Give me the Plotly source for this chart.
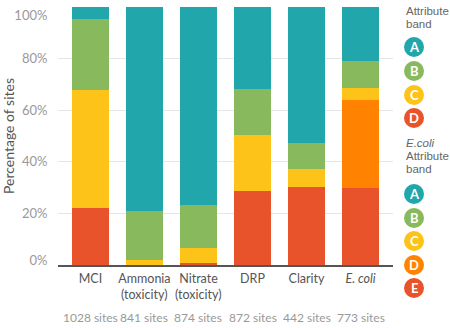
import plotly.graph_objects as go

# Share of monitoring sites in each attribute band, per attribute
categories = ["MCI", "Ammonia (toxicity)", "Nitrate (toxicity)", "DRP", "Clarity", "E. coli"]
tick_text = ["MCI", "Ammonia", "Nitrate", "DRP", "Clarity", "<i>E. coli</i>"]
tick_sub = ["", "(toxicity)", "(toxicity)", "", "", ""]
site_counts = ["1028 sites", "841 sites", "874 sites", "872 sites", "442 sites", "773 sites"]

band_a = [4.7, 79.2, 76.7, 31.9, 52.6, 20.9]
band_b = [27.5, 18.8, 16.8, 17.7, 10.1, 10.5]
band_c = [45.6, 2.0, 5.7, 21.8, 7.1, 4.6]
band_d = [22.2, 0.0, 0.8, 28.6, 30.2, 34.2]
band_e = [0.0, 0.0, 0.0, 0.0, 0.0, 29.8]

TEAL = "#21A6AC"
GREEN = "#88BA5D"
YELLOW = "#FEC318"
ORANGE = "#FF8300"
RED = "#E8532B"

# Band D is red for most attributes, but E. coli has five bands (D orange, E red)
d_colors = [RED, RED, RED, RED, RED, ORANGE]

W, H = 450, 328
ML, MR, MT, MB = 58, 57, 7, 63
PW, PH = W - ML - MR, H - MT - MB


def px_x(px):
    return (px - ML) / PW


def px_y(py):
    return (H - MB - py) / PH


x = list(range(len(categories)))
bar_w = 0.69

fig = go.Figure()
for name, vals, color in [
    ("E", band_e, RED),
    ("D", band_d, d_colors),
    ("C", band_c, YELLOW),
    ("B", band_b, GREEN),
    ("A", band_a, TEAL),
]:
    fig.add_trace(go.Bar(
        x=x, y=vals, name=name, width=bar_w,
        marker=dict(color=color, line=dict(width=0)),
        hovertemplate="%{y:.1f}%<extra>" + name + "</extra>",
    ))

AXIS_FONT = "Lato, 'Source Sans Pro', 'Open Sans', sans-serif"
LEG_FONT = "'Liberation Sans', Arial, sans-serif"

y_tick_style = dict(
    ticks="outside", ticklen=7, tickcolor="rgba(0,0,0,0)",
    tickfont=dict(family=AXIS_FONT, size=13, color="#999999"),
    automargin=False, fixedrange=True, range=[0, 100],
)

fig.update_layout(
    width=W, height=H,
    margin=dict(l=ML, r=MR, t=MT, b=MB, pad=0, autoexpand=False),
    barmode="stack",
    bargap=0,
    plot_bgcolor="white",
    paper_bgcolor="white",
    showlegend=False,
    font=dict(family=AXIS_FONT, size=13, color="#555555"),
    xaxis=dict(
        range=[-0.6, len(categories) - 0.4],
        tickvals=x, ticktext=tick_text, tickangle=0,
        ticks="outside", ticklen=1, tickcolor="rgba(0,0,0,0)",
        tickfont=dict(family=AXIS_FONT, size=12.5, color="#555555"),
        showgrid=False, zeroline=False,
        showline=True, linecolor="#555555", linewidth=1.5,
        automargin=False, fixedrange=True,
    ),
    yaxis=dict(
        tickvals=[20, 40, 60, 80], ticktext=["20%", "40%", "60%", "80%"],
        showgrid=True, gridcolor="#E6E6E6", gridwidth=1,
        zeroline=False, showline=False,
        title=dict(text="Percentage of sites", standoff=12,
                   font=dict(family=AXIS_FONT, size=14, color="#555555")),
        **y_tick_style,
    ),
    # extra overlaid axes keep the end labels tucked inside the plot height
    yaxis2=dict(
        overlaying="y", side="left",
        tickvals=[0], ticktext=["0%"], ticklabelshift=-5,
        showgrid=False, zeroline=False, showline=False,
        **y_tick_style,
    ),
    yaxis3=dict(
        overlaying="y", side="left",
        tickvals=[100], ticktext=["100%"], ticklabelshift=8,
        showgrid=True, gridcolor="#E6E6E6", zeroline=False, showline=False,
        **y_tick_style,
    ),
)

# invisible traces so the overlaid axes are drawn
for ax in ["y2", "y3"]:
    fig.add_trace(go.Scatter(x=[0], y=[50], yaxis=ax, mode="markers",
                             marker=dict(opacity=0), hoverinfo="skip",
                             showlegend=False))

# second line of the category labels, set tight under the first
for xi, sub in zip(x, tick_sub):
    if sub:
        fig.add_annotation(
            x=xi, y=0, xref="x", yref="paper", yshift=-29,
            text=sub, showarrow=False, yanchor="middle", xanchor="center",
            borderpad=0,
            font=dict(family=AXIS_FONT, size=12.5, color="#555555"),
        )

# site counts under each category
for xi, label in zip(x, site_counts):
    fig.add_annotation(
        x=xi, y=0, xref="x", yref="paper", yshift=-52,
        text=label, showarrow=False, yanchor="middle", xanchor="center",
        font=dict(family=AXIS_FONT, size=12, color="#999999"),
    )

# band legends drawn at the right
LEG_X_TEXT = 404
LEG_X_DOT = 414


def legend_text(py, text):
    fig.add_annotation(
        x=px_x(LEG_X_TEXT), y=px_y(py), xref="paper", yref="paper",
        text=text, showarrow=False, xanchor="left", yanchor="middle",
        font=dict(family=LEG_FONT, size=11.5, color="#666666"),
    )


def legend_dot(py, letter, color):
    fig.add_shape(
        type="circle", xref="paper", yref="paper",
        xsizemode="pixel", ysizemode="pixel",
        xanchor=px_x(LEG_X_DOT), yanchor=px_y(py),
        x0=-10, x1=10, y0=-10, y1=10,
        fillcolor=color, line=dict(width=0), layer="above",
    )
    fig.add_annotation(
        x=px_x(LEG_X_DOT), y=px_y(py), xref="paper", yref="paper",
        text="<b>" + letter + "</b>", showarrow=False,
        xanchor="center", yanchor="middle",
        font=dict(family=AXIS_FONT, size=13, color="white"),
    )


legend_text(11, "Attribute")
legend_text(24, "band")
for py, letter, color in [(47, "A", TEAL), (71, "B", GREEN), (95, "C", YELLOW), (118, "D", RED)]:
    legend_dot(py, letter, color)

legend_text(143, "<i>E.coli</i>")
legend_text(156, "Attribute")
legend_text(169, "band")
for py, letter, color in [(194, "A", TEAL), (218, "B", GREEN), (241, "C", YELLOW),
                          (265, "D", ORANGE), (288, "E", RED)]:
    legend_dot(py, letter, color)

fig.write_html("out.html", config={"displayModeBar": False})
